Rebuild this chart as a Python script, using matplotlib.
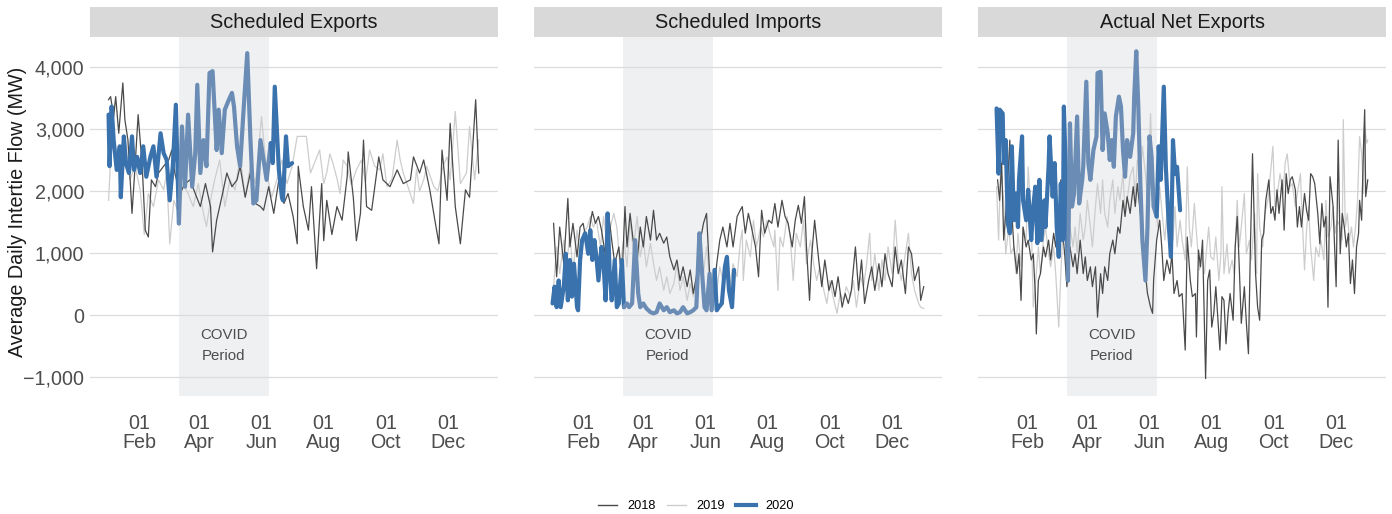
import numpy as np
import pandas as pd
import matplotlib
matplotlib.use("Agg")
import matplotlib.pyplot as plt
from matplotlib.lines import Line2D

plt.rcParams["font.family"] = ["Liberation Sans", "DejaVu Sans"]

# day of year (Jan 1 = 0) and average daily intertie flow in MW
covid_start, covid_end = 70, 158

# --- Scheduled Exports ---
exp18_day = [1,3,6,8,11,15,17,20,24,27,30,34,37,40,43,47,50,55,60,63,66,71,76,81,86,91,96,101,103,107,
             112,117,122,127,130,135,140,145,150,153,158,163,168,173,177,182,186,187,192,197,200,205,210,212,
             215,220,225,230,235,236,241,244,248,251,254,259,266,270,277,284,290,297,300,306,310,316,321,325,
             328,333,336,341,346,351,355,361,364]
exp18_mw = [3470,3520,3200,3520,2930,3740,3150,2820,1640,2400,3230,2400,1370,1260,2180,2070,2290,2400,2500,2660,
            2290,1960,2120,2180,1960,1750,2120,1750,1020,1530,1900,2290,2070,2180,2400,1900,2290,1800,1750,1690,
            2070,1640,2180,1800,1960,1590,1150,2400,1750,1370,2070,750,2120,1200,1850,1300,1750,1530,2230,2630,
            1900,1200,1640,2820,1750,1690,2550,2180,2070,2340,2120,2180,2550,2290,2500,2020,1530,1150,2660,1850,
            3090,1750,1150,2020,1900,3470,2290]
exp19_day = [1,4,9,12,17,22,27,32,36,40,45,50,55,58,61,65,70,74,79,84,89,94,97,101,105,110,115,120,125,130,
             135,140,145,151,156,161,166,171,176,181,186,195,199,208,212,215,218,221,225,228,231,235,239,244,
             249,253,257,262,267,270,274,279,284,287,290,293,300,303,306,310,313,320,324,329,333,336,341,346,
             352,355,360,364]
exp19_mw = [1850,2820,2400,2660,2880,2180,2400,2020,1300,1960,1750,2180,2020,2290,1150,1850,1640,2120,1960,1750,
            2120,1640,1430,1850,2180,2500,1750,2180,2020,2550,1900,2400,2120,3200,2290,1900,2180,2500,2120,2400,
            2880,2880,2290,2660,2120,2300,2600,2450,2200,1960,2500,2400,2100,2340,2500,2150,2660,2400,2340,2600,
            2070,2200,2820,2500,2290,2150,1800,2350,2000,2180,2400,2070,2000,2400,2550,2180,3280,2120,2290,3040,
            2180,2820]
exp20_day = [1,2,4,6,9,12,13,16,18,21,24,26,29,32,35,38,42,45,48,52,55,58,61,64,67,70,73,76,79,83,
             86,88,91,94,97,100,103,107,109,112,115,119,122,124,127,130,133,137,140,143,146,150,153,156,160,162,
             164,168,171,172,175,177,181]
exp20_mw = [3230,2400,3360,2820,2340,2720,1900,2880,2450,2290,2880,2340,2550,2290,2720,2230,2550,2720,2230,2930,
            2610,2500,1850,2400,3390,1480,3040,2070,3230,2070,2610,3710,2290,2820,2400,3900,3930,2660,3310,2610,
            3310,3470,3580,3360,2720,2400,3200,4220,2880,1800,1850,2820,2500,2180,2770,2450,3680,2340,1900,1850,
            2880,2400,2450]

# --- Scheduled Imports ---
imp18_day = [2,5,8,12,16,18,21,25,28,31,35,38,40,43,46,49,53,56,59,62,66,69,72,74,77,80,84,87,90,93,
             97,100,103,106,110,113,116,120,123,126,129,133,136,139,142,146,149,152,155,159,162,165,168,172,175,
             178,182,185,187,190,193,196,200,203,206,209,213,216,219,222,226,229,232,236,239,242,245,248,250,
             253,255,258,262,265,268,272,275,278,281,285,288,291,294,298,301,304,307,311,314,317,321,324,327,
             330,334,337,340,343,347,350,353,356,360,362,365]
imp18_mw = [1480,620,1420,830,1880,1100,1480,940,1420,1480,1100,1480,1670,1480,1590,1370,940,1640,1210,830,
            1100,560,1750,1100,1640,1210,890,1420,1100,1590,1210,1690,1210,1320,1160,1260,940,730,890,560,
            780,460,730,350,620,1210,1480,1640,670,350,830,1210,1420,1100,1480,1100,1590,1690,1750,1320,
            1640,1420,1100,620,1690,1320,1530,1480,1800,1420,1850,1590,1480,1100,1530,1770,1480,1910,1100,240,
            940,1530,890,460,890,400,560,300,620,130,350,190,400,1100,400,890,190,560,780,400,
            830,460,990,670,460,1100,670,890,350,1100,990,560,780,240,460]
imp19_day = [2,5,8,12,15,18,21,25,28,31,35,38,41,44,48,51,54,57,61,64,67,71,74,77,80,84,87,90,93,97,
             100,103,106,110,113,116,120,123,126,129,133,136,139,142,146,149,152,155,159,162,165,168,172,175,
             178,182,185,187,188,191,195,198,201,205,208,211,214,218,219,222,224,227,231,234,237,240,244,247,
             250,254,257,260,263,267,270,273,276,280,283,286,289,293,296,299,303,306,309,312,314,317,321,324,
             327,330,334,337,340,343,347,350,353,356,360,362,365]
imp19_mw = [460,1100,670,1210,830,1320,670,1370,940,1320,1420,1590,1420,1530,1100,1590,1210,1370,1640,1420,
            830,1210,780,1530,1050,1590,940,1210,780,1160,830,560,780,400,620,350,510,830,400,620,
            240,510,300,560,1100,670,1100,560,300,400,780,560,940,460,830,620,1160,1370,560,1210,
            940,1530,1100,1420,1260,1530,1320,1100,1370,400,1260,1100,1590,1260,560,1320,1100,1530,830,1210,
            830,560,780,400,190,560,300,30,350,240,460,300,560,130,620,460,830,1320,560,990,
            400,890,560,1100,670,1530,830,560,990,1320,670,400,190,130,110]
imp20_day = [1,3,5,7,9,12,14,16,18,20,22,25,26,28,30,33,36,38,40,42,44,46,49,51,53,55,57,59,62,64,
             66,69,71,74,76,79,82,85,87,90,93,97,100,103,106,110,113,116,120,123,126,129,133,136,139,142,
             145,147,150,152,155,157,160,162,164,167,170,172,174,177,179]
imp20_mw = [190,460,130,560,130,460,990,240,890,300,830,130,80,890,1210,1320,990,1370,890,1210,
            940,560,1100,830,240,1640,670,240,890,130,190,890,130,190,130,190,1210,350,130,190,
            110,50,30,50,190,80,130,50,80,30,50,130,30,50,80,130,1320,830,130,80,
            670,80,730,80,130,190,780,940,400,130,730]

# --- Actual Net Exports ---
net18_day = [2,4,6,8,11,14,16,18,21,23,25,27,30,32,35,37,39,40,42,44,47,49,52,54,57,59,62,64,66,68,
             70,73,76,78,80,83,86,88,90,93,95,98,100,103,105,107,110,112,115,117,120,122,125,127,129,132,
             135,137,139,142,144,147,149,152,154,155,158,161,163,165,168,171,173,175,178,180,183,
             186,188,191,193,196,197,199,201,203,206,208,210,212,214,216,220,222,224,226,228,230,233,235,237,
             239,241,244,246,248,250,252,255,257,259,261,263,265,268,270,272,274,276,278,281,283,285,287,289,
             291,294,296,298,300,303,305,307,309,311,313,316,318,320,322,324,326,328,331,332,334,336,338,340,
             342,344,346,348,350,352,354,356,357,359,361,362,363,365]
net18_mw = [2180,1850,2450,1210,1850,2820,1640,1100,670,990,240,1420,1100,1210,890,990,350,-300,560,670,
            1100,940,1210,890,1320,1100,1530,2180,1320,940,460,1100,780,990,670,1210,670,940,560,780,
            460,780,-30,670,350,780,560,990,1210,990,1420,1320,1850,1590,1910,1640,2070,1750,2120,1640,
            1420,670,350,130,30,560,1210,1530,1100,560,890,670,990,350,560,300,350,
            -560,1260,560,300,350,-350,1050,780,1210,-1020,560,730,-190,30,460,-560,300,240,-460,30,
            350,-80,1100,1590,780,-130,460,-130,-620,1150,2600,670,130,-80,1210,1320,1850,2180,1640,1750,
            1530,2020,1640,2180,1370,2280,1960,2180,2230,2020,1420,1750,1420,1960,1690,1530,2280,2230,2120,1640,
            1150,1800,1420,1590,130,2230,1750,1320,460,2820,990,1640,1420,1100,1320,510,890,350,1100,1320,
            1850,1530,2820,3310,1910,2180]
net19_day = [1,3,5,8,10,13,15,18,20,22,25,27,30,32,35,37,40,42,44,47,49,52,54,57,59,62,64,66,68,70,
             73,76,78,80,83,86,88,90,93,95,98,100,103,105,107,110,112,115,117,120,122,125,127,129,132,135,
             137,139,142,144,147,149,152,154,156,159,161,164,166,169,171,174,176,178,181,183,186,
             188,190,192,195,197,200,202,205,206,209,211,214,216,219,221,222,224,227,229,232,234,237,239,241,
             244,246,249,251,254,256,257,259,262,264,267,269,272,274,276,279,282,284,286,289,291,294,296,299,
             300,303,305,307,309,312,314,317,319,322,324,326,329,331,333,335,338,340,341,343,345,347,349,351,
             353,355,357,359,361,362,364,365]
net19_mw = [2070,1210,2390,1850,990,1420,990,1100,670,1320,780,1420,1210,2390,1530,130,670,1100,670,1210,
            1420,990,780,1100,670,-190,670,1320,1750,990,1420,1100,1420,990,1640,1210,1420,1850,1420,1100,
            1750,2120,1640,2180,1640,1420,1850,2180,1640,2070,1850,2280,1640,1850,2230,2390,1850,2500,2280,2720,
            2280,1850,3250,2280,1960,1420,2070,1530,1210,1850,1420,1210,1750,1100,1530,1210,890,
            2390,1420,1100,1800,1320,730,990,670,890,1420,940,890,1260,560,990,2070,670,1150,670,890,
            670,1850,1100,1420,1960,990,1210,890,1640,670,2280,1420,1100,1640,1850,2180,2720,1750,1910,2280,
            1960,2450,2600,2070,2120,1750,1960,2280,1850,730,1370,1750,1100,560,1100,940,1210,890,1850,1260,
            1420,1750,1320,1530,1420,1210,3150,1420,1640,1210,1420,1100,1420,1850,2880,2600,1960,3040,2770,2820]
net20_day = [1,3,4,7,8,10,12,14,16,18,20,22,23,26,27,30,32,35,37,39,41,43,45,48,49,52,53,56,58,60,
             62,64,66,67,69,71,73,75,77,80,82,85,86,89,91,93,96,99,100,103,105,107,110,112,114,116,118,121,
             123,125,127,129,132,135,136,138,140,142,144,147,149,151,153,155,158,160,162,165,167,170,172,174,
             176,178,181]
net20_mw = [3330,2280,3310,3250,2450,2820,1480,1320,2720,1530,1960,1420,2180,2880,1850,1530,2020,1210,1750,2070,
            1160,2180,1210,1850,1420,2390,2880,1910,2450,1420,940,2120,1210,3360,2280,560,3090,1750,1960,3200,
            1800,2180,2390,3760,2450,2180,2660,2880,3900,3920,2660,3250,2930,2500,2820,2390,3200,3520,3360,2660,
            2230,2820,2550,2930,3520,4250,3360,2120,1210,560,1420,2880,2550,1750,1590,2720,2180,3680,2390,1420,
            940,2820,2280,2390,1690]

panel_titles = ["Scheduled Exports", "Scheduled Imports", "Actual Net Exports"]
panel_data = [
    ((exp18_day, exp18_mw), (exp19_day, exp19_mw), (exp20_day, exp20_mw)),
    ((imp18_day, imp18_mw), (imp19_day, imp19_mw), (imp20_day, imp20_mw)),
    ((net18_day, net18_mw), (net19_day, net19_mw), (net20_day, net20_mw)),
]
y_ticks = [-1000, 0, 1000, 2000, 3000, 4000]
tick_months = [2, 4, 6, 8, 10, 12]
tick_days = [pd.Timestamp(2019, m, 1).dayofyear - 1 for m in tick_months]
tick_labels = ["01\n" + pd.Timestamp(2019, m, 1).strftime("%b") for m in tick_months]

c2018 = "#4a4a4a"
c2019 = "#cdcdcd"
c2020 = "#3a72ad"
c2020_covid = "#6b8cb4"
shade = "#eef0f2"
text_col = "#4d4d4d"


def plot_2020(ax, day, mw):
    day = np.asarray(day)
    mw = np.asarray(mw)
    i0 = np.searchsorted(day, covid_start)
    i1 = np.searchsorted(day, covid_end)
    kw = dict(lw=3.0, solid_joinstyle="round", solid_capstyle="round", zorder=4)
    ax.plot(day[:i0 + 1], mw[:i0 + 1], color=c2020, **kw)
    ax.plot(day[i0:i1 + 1], mw[i0:i1 + 1], color=c2020_covid, **kw)
    ax.plot(day[i1:], mw[i1:], color=c2020, **kw)


W, H = 1392, 514
fig = plt.figure(figsize=(W / 100, H / 100), dpi=100)

lefts = [90, 534, 978]
for i, (title, series) in enumerate(zip(panel_titles, panel_data)):
    (d18, m18), (d19, m19), (d20, m20) = series
    ax = fig.add_axes([lefts[i] / W, 1 - 396 / H, 408 / W, 359 / H])
    ax.axvspan(covid_start, covid_end, color=shade, lw=0, zorder=0)
    ax.plot(d19, m19, color=c2019, lw=0.9, zorder=2)
    ax.plot(d18, m18, color=c2018, lw=0.9, zorder=3)
    plot_2020(ax, d20, m20)

    ax.set_xlim(-17.2, 382.9)
    ax.set_ylim(-1300, 4480)
    ax.set_yticks(y_ticks)
    ax.set_yticklabels([f"{v:,}".replace("-", "\u2212") for v in y_ticks] if i == 0 else [])
    ax.set_xticks(tick_days)
    ax.set_xticklabels(tick_labels, linespacing=1.0)
    ax.grid(axis="y", color="#dcdcdc", lw=0.9)
    ax.grid(axis="x", visible=False)
    ax.set_axisbelow(True)
    for s in ax.spines.values():
        s.set_visible(False)
    ax.tick_params(axis="both", length=0, labelsize=14.2, colors=text_col)
    ax.tick_params(axis="x", pad=13)
    ax.tick_params(axis="y", pad=4)

    ax.text((covid_start + covid_end) / 2, -484, "COVID\nPeriod", ha="center", va="center",
            fontsize=10.8, color=text_col, linespacing=1.6, zorder=5)

    strip = fig.add_axes([lefts[i] / W, 1 - 37 / H, 408 / W, 30 / H])
    strip.set_facecolor("#d9d9d9")
    strip.set_xticks([])
    strip.set_yticks([])
    for s in strip.spines.values():
        s.set_visible(False)
    strip.text(0.5, 0.5, title, ha="center", va="center", fontsize=14.3, color="#1a1a1a",
               transform=strip.transAxes)

fig.text(18 / W, 1 - 212 / H, "Average Daily Intertie Flow (MW)", rotation=90,
         ha="center", va="center", fontsize=14.2, color="#1a1a1a")

handles = [Line2D([], [], color=c2018, lw=1.0),
           Line2D([], [], color=c2019, lw=1.0),
           Line2D([], [], color=c2020, lw=3.0)]
fig.legend(handles, ["2018", "2019", "2020"], loc="center", bbox_to_anchor=(0.5, 1 - 506 / H),
           ncol=3, frameon=False, fontsize=9.2, handlelength=1.5, handletextpad=0.8,
           columnspacing=0.9)

fig.savefig("out.png", dpi=100, facecolor="white")
